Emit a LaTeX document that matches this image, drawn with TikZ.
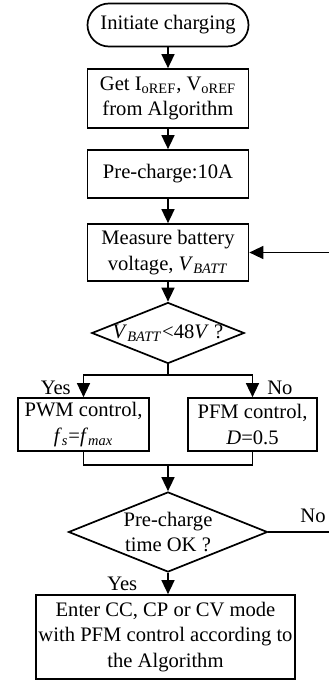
\documentclass[tikz,border=0pt]{standalone}
\usepackage{fontspec}
\setmainfont{Liberation Serif}
\usetikzlibrary{arrows.meta,positioning,shapes.geometric}

\begin{document}
\begin{tikzpicture}[x=0.5pt,y=-0.5pt,
  every node/.style={font=\fontsize{10.3}{12.8}\selectfont},
  term/.style={rectangle,draw,line width=0.85pt,rounded corners=10.75pt,minimum width=80.5pt,minimum height=21.5pt,align=center,inner sep=0pt},
  proc/.style={rectangle,draw,line width=0.85pt,align=center,inner sep=0pt},
  decis/.style={diamond,draw,line width=0.85pt,align=center,inner sep=0pt,aspect=2.5},
  flow/.style={-{Triangle[length=7pt,width=6.5pt]},line width=0.75pt},
  link/.style={line width=0.75pt},
  note/.style={inner sep=0pt}
]
  \useasboundingbox (0,0) rectangle (328,680);

  \node[term] (start) at (168,25) {Initiate charging};
  \node[proc,minimum width=80.5pt,minimum height=29.5pt] (getref) at (168,98.5)
    {Get I\textsubscript{oREF}, V\textsubscript{oREF}\\from Algorithm};
  \node[proc,minimum width=80.5pt,minimum height=24pt] (prechg) at (168,174) {Pre-charge:10A};
  \node[proc,minimum width=80.5pt,minimum height=28.5pt] (measure) at (168,252.5)
    {Measure battery\\voltage, \textit{V}\textsubscript{\textit{BATT}}};
  \node[decis,minimum width=76pt,minimum height=30pt] (chkv) at (168,333)
    {\textit{V}\textsubscript{\textit{BATT}}<48\textit{V} ?};

  \draw[flow] (start) -- (getref);
  \draw[flow] (getref) -- (prechg);
  \draw[flow] (prechg) -- (measure);
  \draw[flow] (measure) -- (chkv);

  \node[proc,minimum width=65.5pt,minimum height=26.5pt] (pwm) at (83.5,424.5)
    {PWM control,\\\textit{f}\textsubscript{\textit{s}}=\textit{f}\textsubscript{\textit{max}}};
  \node[proc,minimum width=64.5pt,minimum height=26.5pt] (pfm) at (252.5,424.5)
    {PFM control,\\\textit{D}=0.5};
  \coordinate (split) at (168,375);
  \draw[link] (chkv.south) -- (split);
  \draw[flow] (split) -| node[pos=0.78,left=6pt,note]{Yes} (pwm.north);
  \draw[flow] (split) -| node[pos=0.78,right=7pt,note]{No} (pfm.north);

  \node[decis,minimum width=99.5pt,minimum height=40pt] (chkt) at (168,532)
    {Pre-charge\\time OK ?};
  \coordinate (merge) at (168,465);
  \draw[link] (pwm.south) |- (merge);
  \draw[link] (pfm.south) |- (merge);
  \draw[flow] (merge) -- (chkt.north);

  \node[proc,minimum width=129.5pt,minimum height=42pt] (mode) at (165.5,637)
    {Enter CC, CP or CV mode\\with PFM control according to\\the Algorithm};
  \draw[flow] (chkt.south) -- node[left=15pt,note]{Yes} (chkt.south |- mode.north);

  % loop back when pre-charge time is not reached
  \coordinate (loop) at (334,532);
  \draw[flow] (chkt.east) -- node[pos=0.68,above=4.5pt,note]{No} (loop) |- (measure.east);
\end{tikzpicture}
\end{document}
